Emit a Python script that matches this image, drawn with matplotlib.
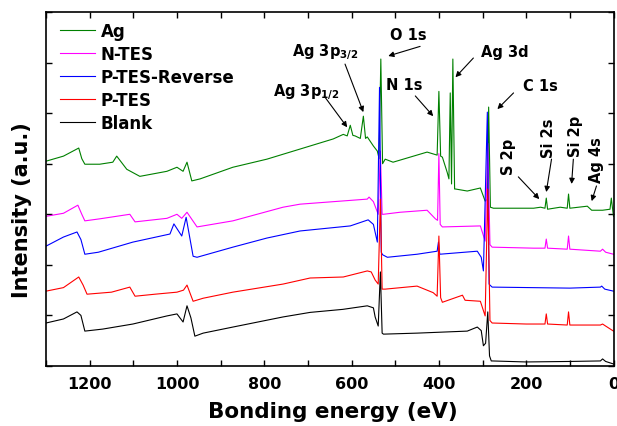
import matplotlib
matplotlib.use('Agg')
import matplotlib.pyplot as plt
from matplotlib.ticker import MultipleLocator

# ---- data (binding energy in eV, intensity in arbitrary stacked units) ----
green_e = [1300,1260,1225,1218,1211,1177,1147,1138,1115,1085, 1023,1000,986,977,966,947,872,794,718,642,
           619,610,603,597,592,580,573,568,564,550, 541,537,533,529,523,505,427,404,400,396,
           392,381,377,374,371,368,364,362,335,305, 294,289,286,282,275,183,167,157,154,151,
           122,106,103,100,60,50,25,8,5,2, 0]
green_i = [4.05,4.15,4.31,4.10,3.99,3.99,4.03,4.15,3.89,3.75, 3.85,3.93,3.85,4.03,3.66,3.70,3.93,4.09,4.29,4.49,
           4.58,4.55,4.76,4.56,4.55,4.50,4.94,4.50,4.53,4.35, 4.25,4.10,6.07,4.00,4.09,4.03,4.23,4.17,5.43,4.15,
           4.13,3.83,3.70,5.40,3.60,6.07,3.50,3.50,3.46,3.52, 3.26,3.30,5.12,3.14,3.12,3.12,3.14,3.12,3.32,3.10,
           3.14,3.12,3.40,3.12,3.16,3.08,3.08,3.10,3.32,3.10, 2.96]

mag_e = [1300,1260,1227,1218,1211,1177,1108,1096,1023,1000, 989,977,954,872,757,718,564,560,550,539,
         534,530,527,489,427,408,403,400,397,392, 305,294,288,283,278,183,157,154,151,106,
         103,100,30,25,18,0]
mag_i = [2.96,3.02,3.18,3.00,2.87,2.91,3.00,2.85,2.92,3.00, 2.92,3.04,2.75,2.87,3.14,3.20,3.30,3.34,3.25,3.00,
         4.25,3.00,3.00,3.04,3.08,2.91,2.88,4.20,2.80,2.75, 2.77,2.47,4.40,2.40,2.35,2.33,2.33,2.51,2.33,2.31,
         2.57,2.31,2.27,2.31,2.25,2.21]

blue_e = [1300,1260,1229,1220,1211,1180,1101,1016,1007,989, 979,963,954,872,794,718,603,562,550,541,
          536,532,529,518,450,404,401,398,312,303, 298,289,285,283,278,100,30,27,20,0]
blue_i = [2.37,2.55,2.65,2.50,2.21,2.25,2.45,2.61,2.81,2.57, 2.94,2.17,2.15,2.35,2.53,2.67,2.77,2.89,2.80,2.45,
          5.51,2.25,2.20,2.15,2.21,2.27,2.45,2.21,2.27,2.15, 1.88,5.02,1.62,1.60,1.56,1.54,1.56,1.58,1.52,1.48]

red_e = [1300,1260,1225,1215,1206,1150,1108,1096,1050,1000, 985,977,963,940,872,757,695,619,564,555,
         546,539,534,530,523,450,413,404,400,396, 392,346,340,305,294,288,283,278,200,157,
         154,151,106,103,100,30,25,18,0]
red_i = [1.48,1.55,1.76,1.60,1.42,1.46,1.56,1.38,1.42,1.46, 1.50,1.60,1.28,1.34,1.46,1.62,1.74,1.76,1.88,1.86,
         1.70,1.62,3.30,1.52,1.52,1.58,1.45,1.38,2.57,1.35, 1.26,1.40,1.30,1.28,0.99,3.50,0.90,0.85,0.83,0.83,
         1.03,0.83,0.81,1.07,0.81,0.81,0.83,0.79,0.69]

black_e = [1300,1260,1229,1220,1211,1170,1101,1023,1000,986, 977,968,959,940,872,757,695,620,564,550,
           546,539,534,530,527,450,335,312,303,298, 293,288,284,280,278,200,100,30,25,18, 0]
black_i = [0.85,0.93,1.07,1.00,0.69,0.73,0.83,0.99,1.03,0.87, 1.19,0.95,0.59,0.65,0.77,0.97,1.06,1.12,1.19,1.15,
           0.97,0.79,1.86,0.65,0.63,0.65,0.69,0.77,0.70,0.40, 0.45,1.07,0.20,0.10,0.10,0.08,0.09,0.10,0.14,0.09, 0.04]

labels = ['Ag', 'N-TES', 'P-TES-Reverse', 'P-TES', 'Blank']
colors = ['#008000', '#ff00ff', '#0000ff', '#ff0000', '#000000']

# annotations
ann_text = ['O 1s', r'Ag 3p$_\mathbf{3/2}$', r'Ag 3p$_\mathbf{1/2}$', 'N 1s', 'Ag 3d', 'C 1s',
            'S 2p', 'Si 2s', 'Si 2p', 'Ag 4s']
ann_pos = [(470, 6.56), (661, 6.23), (704, 5.43), (479, 5.57), (250, 6.21), (167, 5.55),
           (241, 4.15), (149, 4.53), (87, 4.57), (39, 4.09)]
ann_rot = [0, 0, 0, 0, 0, 0, 90, 90, 90, 90]
arrow_tail = [(443, 6.32), (615, 5.97), (663, 5.34), (454, 5.34), (321, 6.09), (229, 5.40),
              (218, 3.74), (142, 4.09), (92, 4.09), (39, 3.56)]
arrow_head = [(516, 6.13), (573, 5.02), (610, 4.72), (413, 4.94), (362, 5.71), (266, 5.08),
              (170, 3.30), (154, 3.44), (96, 3.60), (50, 3.26)]

# ---- figure ----
fig = plt.figure(figsize=(6.17, 4.27), dpi=100)
ax = fig.add_axes([46/617, 60/427, 567.5/617, 354/427])

series = [(green_e, green_i), (mag_e, mag_i), (blue_e, blue_i), (red_e, red_i), (black_e, black_i)]
for (e, i), c, l in zip(series, colors, labels):
    ax.plot(e, i, color=c, lw=0.8, label=l)

ax.set_xlim(1300, 0)
ax.set_ylim(0, 7)
ax.xaxis.set_major_locator(MultipleLocator(200))
ax.xaxis.set_minor_locator(MultipleLocator(100))
ax.yaxis.set_major_locator(MultipleLocator(1))
ax.tick_params(which='both', direction='in', top=True, right=True, length=4, width=1)
ax.tick_params(axis='y', labelleft=False)
ax.tick_params(axis='x', labelsize=11.5, pad=7)
for t in ax.get_xticklabels():
    t.set_fontweight('bold')
for s in ax.spines.values():
    s.set_linewidth(1.2)

ax.set_xlabel('Bonding energy (eV)', fontsize=15.5, fontweight='bold')
ax.xaxis.set_label_coords(0.505, -0.10)
ax.set_ylabel('Intensity (a.u.)', fontsize=15, fontweight='bold')
ax.yaxis.set_label_coords(-0.025, 0.443)

leg = ax.legend(loc='upper left', bbox_to_anchor=(0.0246, 0.971), frameon=False,
                prop={'weight': 'bold', 'size': 12}, handlelength=2.1, handletextpad=0.36,
                labelspacing=0.29, borderpad=0, borderaxespad=0)

for txt, (tx, ty), rot, tail, head in zip(ann_text, ann_pos, ann_rot, arrow_tail, arrow_head):
    ax.text(tx, ty, txt, ha='center', va='center', rotation=rot, fontsize=10.5, fontweight='bold')
    ax.annotate('', xy=head, xytext=tail,
                arrowprops=dict(arrowstyle='-|>', color='black', lw=0.8, mutation_scale=8,
                                shrinkA=0, shrinkB=0))

fig.savefig('out.png', dpi=100)
